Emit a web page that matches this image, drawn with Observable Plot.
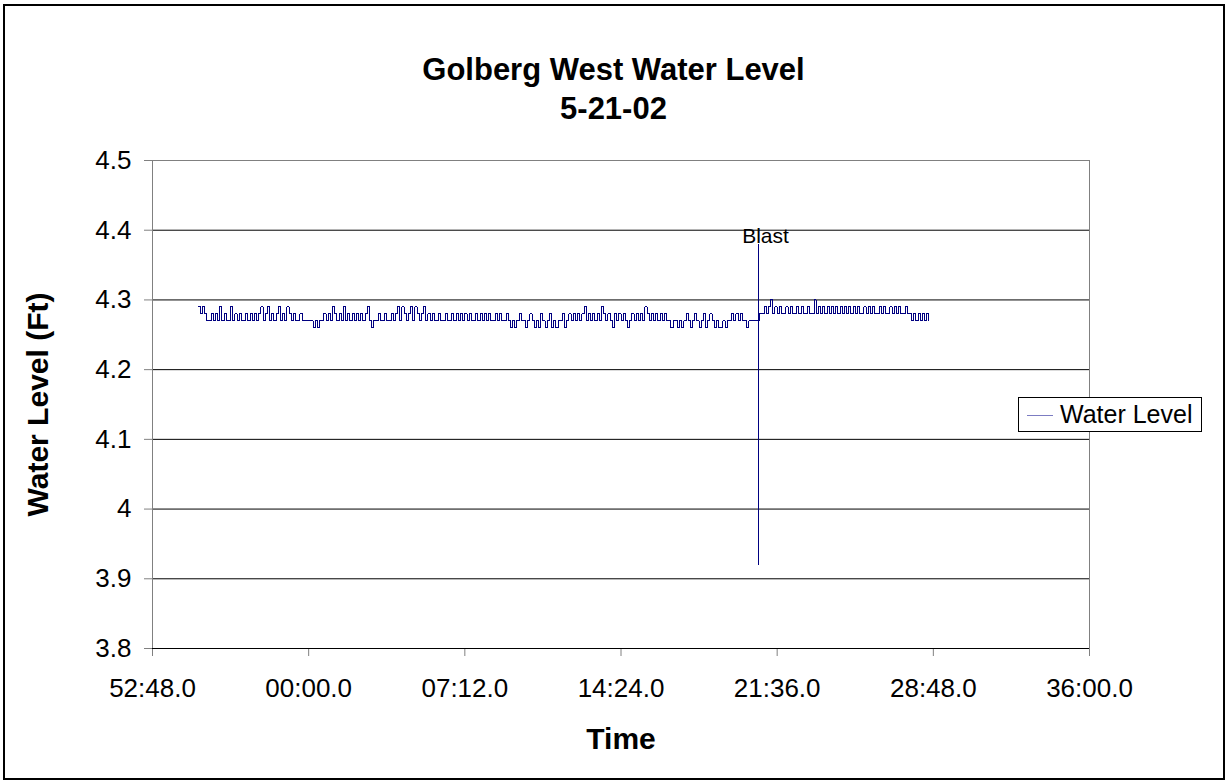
<!DOCTYPE html>
<html>
<head>
<meta charset="utf-8">
<script src="https://cdn.jsdelivr.net/npm/d3@7"></script>
<script src="https://cdn.jsdelivr.net/npm/@observablehq/plot@0.6"></script>
<style>
  html, body { margin: 0; padding: 0; background: #fff; }
  #page { position: relative; width: 1227px; height: 782px; overflow: hidden; font-family: "Liberation Sans", Arial, sans-serif; }
  #frame { position: absolute; left: 3px; top: 4px; width: 1218px; height: 772px; border: 2px solid #000; }
  .title { position: absolute; left: 0; width: 1227px; text-align: center; font-weight: bold; font-size: 31px; line-height: 1; color: #000; }
  #chart { position: absolute; left: 0; top: 0; }
  #legend { position: absolute; left: 1018px; top: 397px; width: 184px; height: 35px; border: 1px solid #000; background: #fff; box-sizing: border-box; }
  #legend .sw { position: absolute; left: 8px; top: 17px; width: 26px; height: 0; border-top: 1px solid #7c7cc2; }
  #legend .lb { position: absolute; left: 41px; top: 4px; font-size: 25px; line-height: 1; color: #000; }
</style>
</head>
<body>
<div id="page">
  <div id="frame"></div>
  <div id="chart"></div>
  <div class="title" style="top:54px">Golberg West Water Level</div>
  <div class="title" style="top:93px">5-21-02</div>
  <div id="legend"><div class="sw"></div><div class="lb">Water Level</div></div>
</div>
<script>
// ---- data (time in minutes relative to 00:00.0, sampled every 0.1 min) ----
const sampleStart = -5.1;   // minutes
const sampleStep = 0.1;     // minutes
const waterLevel = [
  4.29,4.28,4.29,4.28,4.27,4.27,4.28,4.27,4.28,4.27,
  4.29,4.27,4.28,4.27,4.27,4.29,4.27,4.28,4.27,4.28,
  4.27,4.27,4.28,4.27,4.28,4.27,4.28,4.27,4.28,4.29,
  4.27,4.28,4.29,4.27,4.28,4.27,4.28,4.29,4.27,4.28,
  4.27,4.29,4.28,4.27,4.28,4.27,4.27,4.28,4.27,4.27,
  4.27,4.27,4.27,4.26,4.27,4.26,4.27,4.27,4.28,4.27,
  4.28,4.27,4.29,4.28,4.27,4.28,4.27,4.29,4.27,4.28,
  4.27,4.28,4.27,4.28,4.27,4.28,4.27,4.28,4.29,4.27,
  4.26,4.27,4.27,4.28,4.27,4.27,4.28,4.27,4.27,4.28,
  4.27,4.28,4.29,4.27,4.29,4.28,4.27,4.28,4.29,4.27,
  4.29,4.28,4.27,4.28,4.29,4.27,4.28,4.27,4.28,4.27,
  4.27,4.28,4.27,4.27,4.28,4.27,4.27,4.28,4.27,4.28,
  4.27,4.28,4.27,4.28,4.27,4.28,4.27,4.27,4.28,4.27,
  4.28,4.27,4.28,4.27,4.28,4.27,4.27,4.28,4.27,4.28,
  4.27,4.27,4.28,4.27,4.26,4.27,4.26,4.27,4.28,4.27,
  4.27,4.26,4.27,4.28,4.27,4.26,4.27,4.26,4.28,4.27,
  4.26,4.27,4.28,4.26,4.27,4.26,4.27,4.27,4.28,4.26,
  4.27,4.28,4.27,4.28,4.27,4.28,4.27,4.28,4.29,4.27,
  4.28,4.27,4.28,4.27,4.28,4.27,4.29,4.28,4.27,4.28,
  4.27,4.26,4.28,4.27,4.28,4.27,4.28,4.27,4.26,4.27,
  4.28,4.27,4.28,4.27,4.28,4.27,4.29,4.28,4.27,4.28,
  4.27,4.28,4.27,4.28,4.27,4.28,4.27,4.27,4.26,4.27,
  4.27,4.26,4.27,4.26,4.27,4.28,4.27,4.26,4.27,4.28,
  4.27,4.26,4.27,4.28,4.26,4.27,4.28,4.27,4.26,4.27,
  4.26,4.26,4.27,4.26,4.27,4.27,4.28,4.27,4.28,4.27,
  4.28,4.27,4.27,4.26,4.27,4.27,4.27,4.27,4.27,4.28,
  4.28,4.29,4.28,4.29,4.30,4.28,4.29,4.28,4.29,4.28,
  4.28,4.29,4.28,4.29,4.28,4.28,4.29,4.28,4.29,4.28,
  4.28,4.29,4.28,4.28,4.30,4.28,4.29,4.28,4.29,4.28,
  4.29,4.28,4.29,4.28,4.29,4.28,4.29,4.28,4.29,4.28,
  4.29,4.28,4.29,4.28,4.29,4.28,4.28,4.29,4.28,4.29,
  4.28,4.29,4.28,4.28,4.29,4.28,4.29,4.28,4.28,4.29,
  4.28,4.29,4.28,4.29,4.28,4.28,4.29,4.28,4.28,4.27,
  4.28,4.27,4.28,4.27,4.28,4.27,4.28,4.27
];
// burst of fast readings at the blast
const blastTimes = [20.74, 20.742, 20.746, 20.75];
const blastLevels = [3.92, 4.38, 4.32, 4.27];
const blastLabel = "Blast";

// axes
const xTickMinutes = [-7.2, 0, 7.2, 14.4, 21.6, 28.8, 36.0];
const xTickLabels = ["52:48.0", "00:00.0", "07:12.0", "14:24.0", "21:36.0", "28:48.0", "36:00.0"];
const yTicks = [3.8, 3.9, 4.0, 4.1, 4.2, 4.3, 4.4, 4.5];
const yTickLabels = ["3.8", "3.9", "4", "4.1", "4.2", "4.3", "4.4", "4.5"];
const yGrid = [3.9, 4.0, 4.1, 4.2, 4.3, 4.4];

const rows = waterLevel.map((v, i) => ({t: +(sampleStart + i * sampleStep).toFixed(3), v}));
blastTimes.forEach((t, i) => rows.push({t, v: blastLevels[i]}));
rows.sort((a, b) => a.t - b.t);

const chart = Plot.plot({
  width: 1227,
  height: 782,
  marginLeft: 152,
  marginRight: 138,
  marginTop: 160,
  marginBottom: 134,
  style: {fontFamily: "'Liberation Sans', Arial, sans-serif", fontSize: "26px", background: "transparent", color: "#000"},
  x: {domain: [-7.2, 36]},
  y: {domain: [3.8, 4.5]},
  marks: [
    Plot.ruleY(yGrid, {stroke: "#000", strokeWidth: 1}),
    Plot.ruleY([4.5], {stroke: "#808080"}),
    Plot.ruleX([36], {stroke: "#808080"}),
    Plot.ruleX([-7.2], {stroke: "#808080"}),
    Plot.axisY({ticks: yTicks, tickFormat: (d) => yTickLabels[yTicks.indexOf(d)], tickSize: 8, tickPadding: 13, stroke: "#808080", fill: "#000", label: null, fontSize: 26}),
    Plot.axisX({ticks: xTickMinutes, tickFormat: d => xTickLabels[xTickMinutes.indexOf(d)], tickSize: 8, tickPadding: 22, stroke: "#808080", fill: "#000", label: null, fontSize: 26}),
    Plot.ruleY([3.8], {stroke: "#000"}),
    Plot.line(rows, {x: "t", y: "v", stroke: "#000080", strokeWidth: 1, curve: "step-after", shapeRendering: "crispEdges"}),
    Plot.text([blastLabel], {x: () => blastTimes[0], y: () => 4.38, text: d => d, dx: 7, dy: -1, lineAnchor: "bottom", fontSize: 21, fill: "#000"}),
    Plot.text(["Water Level (Ft)"], {frameAnchor: "left", textAnchor: "middle", dx: -114, rotate: -90, text: d => d, fontSize: 30, fontWeight: "bold", fill: "#000"}),
    Plot.text(["Time"], {frameAnchor: "bottom", dy: 100, text: d => d, fontSize: 30, fontWeight: "bold", fill: "#000"})
  ]
});
document.getElementById("chart").appendChild(chart);
</script>
</body>
</html>
